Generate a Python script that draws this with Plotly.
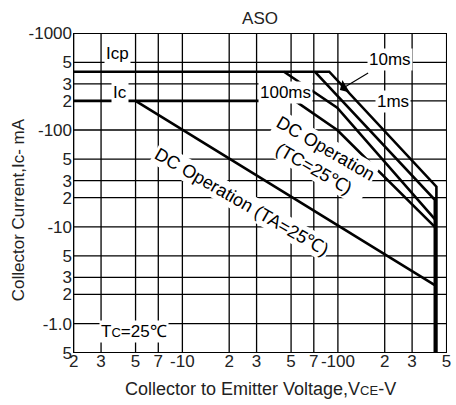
import numpy as np
import plotly.graph_objects as go

# ---- data (VCE magnitude in V, IC magnitude in mA) ----
vce_1ms = [2, 88, 430, 430]
ic_1ms = [400, 400, 26, 0.5]
vce_10ms = [71, 420, 420]
ic_10ms = [400, 19, 0.5]
vce_100ms = [45, 99, 420]
ic_100ms = [400, 170, 12]
vce_dc_tc = [2, 53, 99, 420]
ic_dc_tc = [200, 200, 100, 10]
vce_dc_ta = [5, 420]
ic_dc_ta = [200, 2.5]

x_tickvals = [2, 3, 5, 7, 10, 20, 30, 50, 70, 100, 200, 300, 500]
x_ticktext = ["2", "3", "5", "7", "-10", "2", "3", "5", "7", "-100", "2", "3", "5"]
y_tickvals = [0.5, 1, 2, 3, 5, 10, 20, 30, 50, 100, 200, 300, 500, 1000]
y_ticktext = ["5", "-1.0", "2", "3", "5", "-10", "2", "3", "5", "-100", "2", "3", "5", "-1000"]

XMIN, XMAX = 1.98, 503
YMIN, YMAX = 0.497, 1005

FONT = "Arial, 'Liberation Sans', sans-serif"
LW = 2.6

fig = go.Figure()

# grid lines at the tick values (drawn as line traces)
gx, gy = [], []
for v in x_tickvals:
    gx += [v, v, None]
    gy += [YMIN, YMAX, None]
for v in y_tickvals:
    gx += [XMIN, XMAX, None]
    gy += [v, v, None]
fig.add_trace(go.Scatter(x=gx, y=gy, mode="lines", line=dict(color="black", width=1.3),
                         showlegend=False, hoverinfo="skip"))
# plot frame
fig.add_trace(go.Scatter(x=[XMIN, XMAX, XMAX, XMIN, XMIN], y=[YMIN, YMIN, YMAX, YMAX, YMIN],
                         mode="lines", line=dict(color="black", width=2),
                         cliponaxis=False, showlegend=False, hoverinfo="skip"))

for xs, ys in [(vce_1ms, ic_1ms), (vce_10ms, ic_10ms), (vce_100ms, ic_100ms),
               (vce_dc_tc, ic_dc_tc), (vce_dc_ta, ic_dc_ta)]:
    fig.add_trace(go.Scatter(x=xs, y=ys, mode="lines",
                             line=dict(color="black", width=LW),
                             showlegend=False, hoverinfo="skip"))

L = np.log10


def lab(text, x, y, size=17, angle=0, bg="white"):
    fig.add_annotation(x=L(x), y=L(y), xref="x", yref="y", text=text,
                       showarrow=False, textangle=angle,
                       font=dict(family=FONT, size=size, color="black"),
                       bgcolor=bg, borderpad=1)


lab("Icp", 3.83, 617)
lab("Ic", 4.0, 242)
lab("100ms", 46, 246)
lab("10ms", 216, 530)
lab("1ms", 227, 195)
lab("T<span style='font-size:13px'>C</span>=25℃", 4.9, 0.82)
lab("DC Operation<br>(TC=25℃)", 76.9, 51.2, size=18, angle=30)
lab("DC Operation (TA=25℃)", 24.1, 18.0, size=18, angle=30)

# arrow for 10ms
fig.add_annotation(x=L(103), y=L(259), ax=L(160), ay=L(397),
                   xref="x", yref="y", axref="x", ayref="y", text="",
                   showarrow=True, arrowhead=1, arrowsize=2.2, arrowwidth=1.1,
                   arrowcolor="black")

# axis titles
fig.add_annotation(x=-0.1455, y=0.448, xref="paper", yref="paper",
                   xanchor="center", yanchor="middle",
                   text="Collector Current,Ic- mA", textangle=-90, showarrow=False,
                   font=dict(family=FONT, size=17, color="#222"))
fig.add_annotation(x=0.5, y=-0.112, xref="paper", yref="paper",
                   xanchor="center", yanchor="middle",
                   text="Collector to Emitter Voltage,V<span style='font-size:13px'>CE</span>-V",
                   showarrow=False, font=dict(family=FONT, size=18, color="#222"))

fig.update_layout(
    width=456, height=405,
    margin=dict(l=73, r=5, t=33, b=52),
    paper_bgcolor="white", plot_bgcolor="white",
    font=dict(family=FONT, size=17, color="#222"),
    title=dict(text="ASO", x=0.5, xref="paper", xanchor="center",
               y=1 - 18 / 405, yref="container", yanchor="middle",
               font=dict(family=FONT, size=17, color="#222")),
)
fig.update_xaxes(type="log", range=[L(XMIN), L(XMAX)],
                 tickmode="array", tickvals=x_tickvals, ticktext=x_ticktext,
                 showgrid=False, showline=False,
                 ticks="", zeroline=False, tickangle=0, ticklabelstandoff=-4,
                 tickfont=dict(family=FONT, size=17, color="#222"))
fig.update_yaxes(type="log", range=[L(YMIN), L(YMAX)],
                 tickmode="array", tickvals=y_tickvals, ticktext=y_ticktext,
                 showgrid=False, showline=False,
                 ticks="", zeroline=False,
                 tickfont=dict(family=FONT, size=17, color="#222"))

fig.write_html("out.html", config={"displayModeBar": False},
               post_script="document.body.style.margin='0';document.body.style.overflow='hidden';")
